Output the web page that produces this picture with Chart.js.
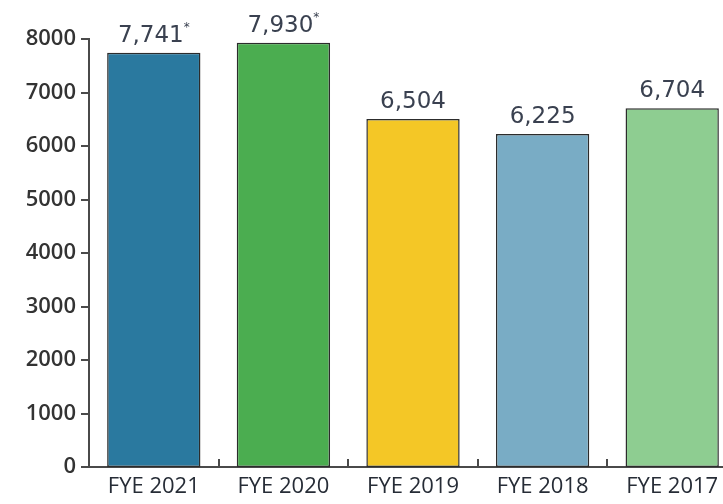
<!DOCTYPE html>
<html>
<head>
<meta charset="utf-8">
<script src="https://cdn.jsdelivr.net/npm/chart.js@4/dist/chart.umd.min.js"></script>
<style>
  html, body { margin: 0; padding: 0; background: #fff; overflow: hidden; }
  #wrap { position: relative; width: 752px; height: 504px; }
</style>
</head>
<body>
<div id="wrap"><canvas id="fyeChart"></canvas></div>
<script>
// ── data ──
var years = ['FYE 2021', 'FYE 2020', 'FYE 2019', 'FYE 2018', 'FYE 2017'];
var counts = [7741, 7930, 6504, 6225, 6704];
var valueLabels = ['7,741', '7,930', '6,504', '6,225', '6,704'];
var footnoteMarks = ['*', '*', '', '', ''];
var barColors = ['#2a799f', '#4bad50', '#f4c726', '#79acc5', '#8ecd91'];
var yTicks = [0, 1000, 2000, 3000, 4000, 5000, 6000, 7000, 8000];

var axisColor = '#4a4a4a';

// axis frame: y line with outward ticks, short upward marks between categories
function drawAxisFrame(chart) {
  var x = chart.scales.x;
  var y = chart.scales.y;
  var area = chart.chartArea;
  var ctx = chart.ctx;
  var step = x.getPixelForValue(1) - x.getPixelForValue(0);
  var left = Math.round(area.left);
  var top = Math.round(y.getPixelForValue(yTicks[yTicks.length - 1]));
  var bottom = Math.round(y.getPixelForValue(0));
  ctx.save();
  ctx.fillStyle = axisColor;
  // y axis line
  ctx.fillRect(left - 1, top - 1, 2, bottom - top + 2);
  // y ticks pointing left
  for (var j = 0; j < yTicks.length; j++) {
    var py = Math.round(y.getPixelForValue(yTicks[j]));
    ctx.fillRect(left - 8, py - 1, 8, 2);
  }
  // marks between the categories, pointing up
  for (var i = 0; i < years.length - 1; i++) {
    var px = Math.round(x.getPixelForValue(i) + step / 2);
    ctx.fillRect(px - 1, bottom - 8, 2, 8);
  }
  ctx.restore();
}

// value labels over each bar, with the small footnote mark
function drawValueLabels(chart) {
  var ctx = chart.ctx;
  var meta = chart.getDatasetMeta(0);
  ctx.save();
  ctx.fillStyle = '#3a4150';
  ctx.textBaseline = 'alphabetic';
  ctx.textAlign = 'left';
  for (var i = 0; i < meta.data.length; i++) {
    var bar = meta.data[i];
    ctx.font = '400 23px "DejaVu Sans", sans-serif';
    var w = ctx.measureText(valueLabels[i]).width;
    ctx.font = '400 12px "DejaVu Sans", sans-serif';
    var mw = footnoteMarks[i] ? ctx.measureText(footnoteMarks[i]).width : 0;
    var x0 = bar.x - (w + mw) / 2;
    ctx.font = '400 23px "DejaVu Sans", sans-serif';
    ctx.fillText(valueLabels[i], x0, bar.y - 11);
    if (footnoteMarks[i]) {
      ctx.font = '400 12px "DejaVu Sans", sans-serif';
      ctx.fillText(footnoteMarks[i], x0 + w, bar.y - 22);
    }
  }
  ctx.restore();
}

var overlayPlugin = {
  id: 'overlay',
  afterDatasetsDraw: function(chart) {
    drawAxisFrame(chart);
    drawValueLabels(chart);
  }
};

var ctx = document.getElementById('fyeChart').getContext('2d');
new Chart(ctx, {
  type: 'bar',
  data: {
    labels: years,
    datasets: [{
      data: counts,
      backgroundColor: barColors,
      borderColor: '#2c2c2c',
      borderWidth: 1.5,
      borderSkipped: false,
      categoryPercentage: 1,
      barPercentage: 0.72
    }]
  },
  options: {
    responsive: true,
    maintainAspectRatio: false,
    animation: false,
    layout: { padding: { top: 39, right: 15, left: 0, bottom: 0 } },
    plugins: {
      legend: { display: false },
      tooltip: { enabled: false }
    },
    scales: {
      x: {
        offset: true,
        grid: { display: false, drawTicks: false },
        border: { display: true, color: axisColor, width: 2 },
        ticks: {
          color: '#262c36',
          padding: 7,
          font: { family: '"Liberation Sans Narrow", "Open Sans", sans-serif', size: 22 }
        },
        afterFit: function(scale) { scale.height = 37; }
      },
      y: {
        min: 0,
        max: 8000,
        afterBuildTicks: function(scale) {
          scale.ticks = yTicks.map(function(v) { return { value: v }; });
        },
        grid: { display: false, drawTicks: false },
        border: { display: false },
        ticks: {
          color: '#333',
          padding: 13,
          font: { family: '"Open Sans", sans-serif', size: 22, weight: '600' },
          callback: function(value) { return String(value); }
        },
        afterFit: function(scale) { scale.width = 89; }
      }
    }
  },
  plugins: [overlayPlugin]
});
</script>
</body>
</html>
